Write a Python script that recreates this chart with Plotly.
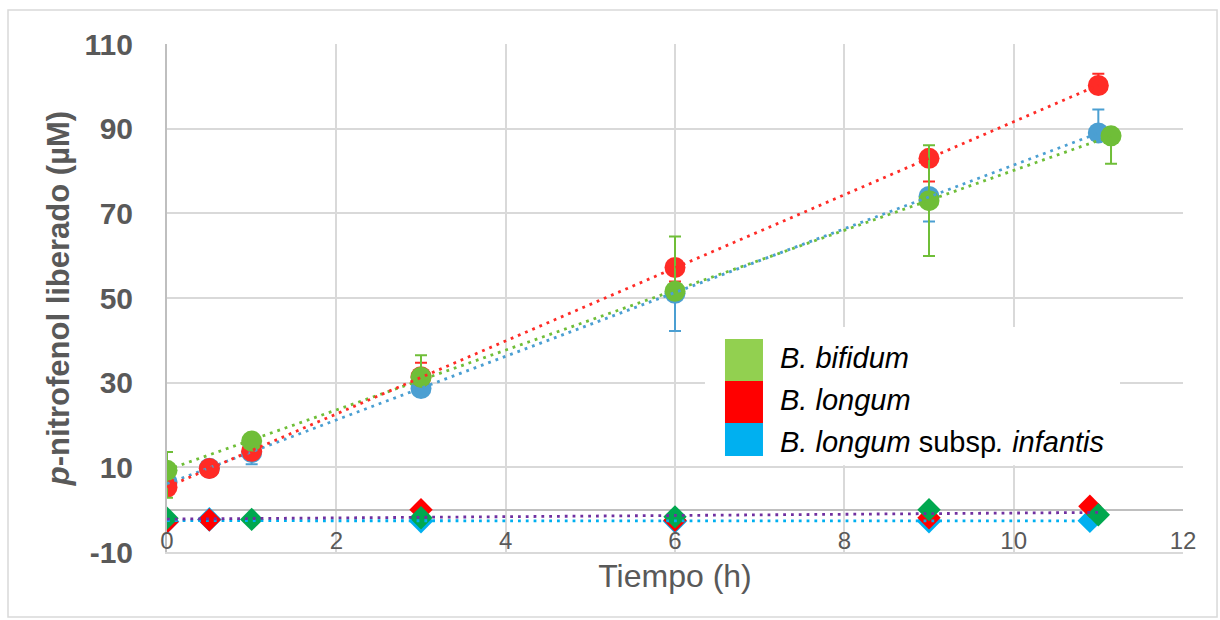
import numpy as np
import plotly.graph_objects as go

# ---- data: p-nitrofenol liberado (µM) vs tiempo (h) ----
# strains (circles, with error bars)
X_BIF = [0, 1, 3, 6, 9, 11.15]
Y_BIF = [9.3, 16.2, 31.3, 51.6, 73.0, 88.3]
ERR_BIF_UP = [4.3, 1.5, 5.2, 12.9, 13.1, 0.0]
ERR_BIF_DN = [6.5, 1.5, 1.5, 0.0, 13.1, 6.6]

X_LON = [0, 0.5, 1, 3, 6, 9, 11]
Y_LON = [5.3, 9.7, 13.8, 31.4, 57.2, 83.0, 100.2]
ERR_LON_UP = [1.0, 1.0, 1.0, 3.3, 0.0, 0.0, 2.8]
ERR_LON_DN = [1.0, 1.0, 1.0, 1.0, 3.3, 5.5, 1.0]

X_INF = [0, 0.5, 1, 3, 6, 9, 11]
Y_INF = [6.5, 9.8, 13.5, 28.6, 51.1, 74.0, 89.0]
ERR_INF_UP = [1.0, 1.0, 1.0, 1.0, 1.0, 1.0, 5.5]
ERR_INF_DN = [1.0, 1.0, 2.8, 1.0, 8.9, 5.9, 1.0]

# controls (diamonds)
X_CTL_INF = [0, 0.5, 3, 6, 9, 10.9]
Y_CTL_INF = [-2.8, -2.3, -2.7, -2.7, -2.7, -2.6]
X_CTL_LON = [0, 0.5, 3, 6, 9, 10.9]
Y_CTL_LON = [-2.9, -2.4, 0.0, -2.5, -1.9, 0.8]
X_CTL_BIF = [0, 1, 3, 6, 9, 11]
Y_CTL_BIF = [-2.0, -2.3, -1.9, -1.7, 0.0, -1.2]

X_TICKS = [0, 2, 4, 6, 8, 10, 12]
Y_TICKS = [-10, 10, 30, 50, 70, 90, 110]
Y_TICK_TEXT = ["-10", "10", "30", "50", "70", "90", "110"]

LEGEND_NAMES = ["<i>B. bifidum</i>", "<i>B. longum</i>",
                "<i>B. longum</i> subsp<i>.</i> <i>infantis</i>"]
LEGEND_COLORS = ["#92d050", "#ff0000", "#00b0f0"]

C_BIF = "#6fbe38"
C_LON = "#ff2b26"
C_INF = "#4b9fd2"
C_PURPLE = "#7030a0"
C_CYAN = "#00b0f0"

FONT = "Liberation Sans, Arial, sans-serif"
GREY = "#595959"

fig = go.Figure()


def strain(x, y, up, dn, color):
    fig.add_trace(go.Scatter(
        x=x, y=y, mode="markers",
        marker=dict(symbol="circle", size=21, color=color),
        error_y=dict(type="data", symmetric=False, array=up, arrayminus=dn,
                     color=color, thickness=2, width=6),
        showlegend=False, hoverinfo="x+y"))


def control(x, y, color, size):
    fig.add_trace(go.Scatter(
        x=x, y=y, mode="markers",
        marker=dict(symbol="diamond", size=size, color=color),
        showlegend=False, hoverinfo="x+y"))


def trend(x, y, color):
    slope, icpt = np.polyfit(x, y, 1)
    xs = np.array([min(x), max(x)])
    fig.add_trace(go.Scatter(
        x=xs, y=slope * xs + icpt, mode="lines",
        line=dict(color=color, width=2.8, dash="2.8px,5px"),
        showlegend=False, hoverinfo="skip"))


strain(X_INF, Y_INF, ERR_INF_UP, ERR_INF_DN, C_INF)
strain(X_LON, Y_LON, ERR_LON_UP, ERR_LON_DN, C_LON)
strain(X_BIF, Y_BIF, ERR_BIF_UP, ERR_BIF_DN, C_BIF)

control(X_CTL_INF, Y_CTL_INF, C_CYAN, 19)
control(X_CTL_LON, Y_CTL_LON, "#ff0000", 18)
control(X_CTL_BIF, Y_CTL_BIF, "#00a84f", 18)

trend(X_INF, Y_INF, C_INF)
trend(X_BIF, Y_BIF, C_BIF)
trend(X_LON, Y_LON, C_LON)
trend(X_CTL_INF, Y_CTL_INF, C_CYAN)
trend(X_CTL_BIF, Y_CTL_BIF, C_PURPLE)

# legend panel: white box over the grid, colour swatches and italic names
shapes = [
    dict(type="rect", xref="paper", yref="paper", layer="above",
         x0=0.5295, x1=0.938, y0=0.171, y1=0.443,
         fillcolor="white", line=dict(width=0)),
    # outer chart frame
    dict(type="rect", xref="paper", yref="paper", layer="above",
         x0=-0.1565, x1=1.0335, y0=-0.128, y1=1.067,
         line=dict(color="#d9d9d9", width=1.5), fillcolor="rgba(0,0,0,0)"),
]
sw_top = [0.4193, 0.3366, 0.2539]
sw_bot = [0.3366, 0.2539, 0.1890]
for c, t, b in zip(LEGEND_COLORS, sw_top, sw_bot):
    shapes.append(dict(type="rect", xref="paper", yref="paper",
                       layer="above", x0=0.5492, x1=0.5866, y0=b, y1=t,
                       fillcolor=c, line=dict(width=0)))

annotations = []
for name, yc in zip(LEGEND_NAMES, [0.3819, 0.2992, 0.2165]):
    annotations.append(dict(xref="paper", yref="paper", x=0.6014, y=yc,
                            text=name, showarrow=False, xanchor="left",
                            yanchor="middle",
                            font=dict(family=FONT, size=29, color="black")))

fig.update_layout(
    width=1220, height=620,
    margin=dict(l=167, r=37, t=44, b=68),
    paper_bgcolor="white", plot_bgcolor="white",
    font=dict(family=FONT, color=GREY),
    shapes=shapes, annotations=annotations,
    showlegend=False,
)

fig.update_xaxes(
    range=[0, 12], tickvals=X_TICKS, ticks="",
    ticklabelposition="inside", ticklabeloverflow="allow",
    tickfont=dict(size=24, color=GREY),
    showgrid=True, gridcolor="#d9d9d9", gridwidth=2,
    zeroline=False,
    showline=True, linecolor="#d9d9d9", linewidth=2,
    title=dict(text="Tiempo (h)", font=dict(size=32, color=GREY), standoff=12),
)
fig.update_yaxes(
    range=[-10, 110], tickvals=Y_TICKS, ticktext=Y_TICK_TEXT, ticks="",
    ticklabelstandoff=26,
    tickfont=dict(size=30, color=GREY, weight="bold"),
    showgrid=True, gridcolor="#d9d9d9", gridwidth=2,
    zeroline=True, zerolinecolor="#bfbfbf", zerolinewidth=2,
    showline=True, linecolor="#bfbfbf", linewidth=2,
    title=dict(text="<i>p</i>-nitrofenol liberado (µM)",
               font=dict(size=31, color=GREY, weight="bold"), standoff=6),
)

fig.write_html("out.html")
